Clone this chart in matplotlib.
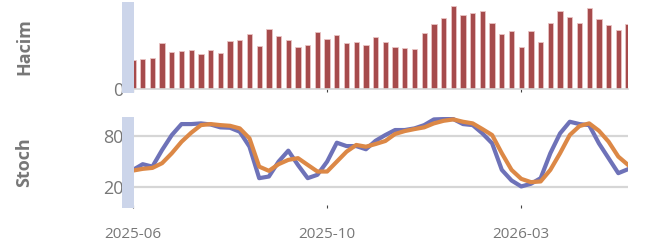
import numpy as np
import pandas as pd
import matplotlib
matplotlib.use('Agg')
import matplotlib.pyplot as plt
from matplotlib.patches import Rectangle

plt.rcParams['font.family'] = ['Open Sans', 'DejaVu Sans']

# weekly candles, june 2025 -> may 2026
dates = pd.date_range('2025-06-02', periods=52, freq='W-MON')

# volume (millions)
volume = [2.85, 2.95, 3.02, 4.55, 3.65, 3.75, 3.88, 3.48, 3.88, 3.58,
          4.75, 4.85, 5.42, 4.28, 5.92, 5.28, 4.88, 4.18, 4.32, 5.65,
          4.92, 5.35, 4.58, 4.62, 4.35, 5.18, 4.62, 4.15, 4.02, 3.92,
          5.55, 6.45, 7.02, 8.28, 7.35, 7.55, 7.75, 6.55, 5.48, 5.72,
          4.12, 5.72, 4.65, 6.52, 7.72, 7.12, 6.52, 8.02, 6.95, 6.38,
          5.85, 6.42]

# stochastic %K / %D
stoch_k = [40.4, 47.0, 44.2, 63.5, 80.8, 93.5, 93.5, 94.3, 93.0, 89.7,
           89.2, 84.6, 67.3, 30.8, 32.7, 50.0, 62.7, 46.0, 30.8, 34.7,
           50.0, 71.9, 68.0, 68.0, 64.3, 74.2, 80.8, 86.6, 86.6, 88.5,
           92.3, 98.9, 99.3, 99.3, 93.5, 92.3, 82.7, 71.2, 40.4, 28.1,
           21.2, 24.3, 30.8, 59.7, 82.7, 96.2, 93.5, 92.3, 71.2, 53.9,
           36.6, 41.2]
stoch_d = [39.6, 41.6, 42.7, 48.2, 59.7, 73.0, 83.5, 92.3, 93.5, 92.3,
           91.5, 88.5, 77.0, 44.2, 39.3, 47.0, 52.0, 54.0, 46.2, 38.5,
           38.5, 50.0, 61.5, 69.3, 67.3, 70.4, 73.9, 82.0, 85.4, 87.7,
           89.7, 94.3, 97.3, 98.9, 96.2, 94.3, 87.7, 80.8, 59.7, 40.4,
           30.0, 26.2, 27.0, 40.4, 59.7, 80.8, 91.2, 94.3, 85.8, 73.1,
           55.8, 46.2]

stoch_levels = [20, 80]

W, H = 649, 248
fig = plt.figure(figsize=(W / 100, H / 100), dpi=100)


def px_axes(x0, y0, x1, y1):
    return fig.add_axes([x0 / W, 1 - y1 / H, (x1 - x0) / W, (y1 - y0) / H])


x = np.arange(len(dates))
tick_idx = list(range(0, len(dates), 20))
tick_labels = [dates[i].strftime('%Y-%m') for i in tick_idx]
grey = '#777777'

ax1 = px_axes(133, 2, 628, 88.5)
ax2 = px_axes(133, 117, 628, 205)

ax1.bar(x, volume, width=0.55, color='#a64b4c', edgecolor='#e9c4c4',
        linewidth=0.6, zorder=2)
ax1.set_ylim(0, 8.65)
ax1.set_yticks([0])
ax1.set_yticklabels(['0'])

ax2.plot(x, stoch_k, color='#6e72b8', lw=3.0, zorder=3)
ax2.plot(x, stoch_d, color='#dc8846', lw=3.0, zorder=4)
for lvl in stoch_levels:
    ax2.axhline(lvl, color='#d6d6d6', lw=1.6, zorder=1)
ax2.set_ylim(-0.3, 101.7)
ax2.set_yticks([20, 80])
ax2.set_yticklabels(['20', '80'])

for ax in (ax1, ax2):
    ax.set_xlim(0, len(dates) - 1)
    for s in ax.spines.values():
        s.set_visible(False)
    ax.set_xticks(tick_idx)
    ax.tick_params(axis='x', length=2.2, width=0.8, color='#444444',
                   labelbottom=False)
    ax.tick_params(axis='y', length=0, pad=7, labelsize=13, labelcolor=grey)

ax1.spines['bottom'].set_visible(True)
ax1.spines['bottom'].set_color('#d6d6d6')
ax1.spines['bottom'].set_linewidth(1.2)

ax2.tick_params(axis='x', labelbottom=True, pad=14, labelsize=11,
                labelcolor=grey)
ax2.set_xticklabels(tick_labels)

fig.text(24.5 / W, 1 - 46.5 / H, 'Hacim', rotation=90, ha='center',
         va='center', fontsize=13, fontweight='bold', color=grey)
fig.text(24.5 / W, 1 - 162 / H, 'Stoch', rotation=90, ha='center',
         va='center', fontsize=13, fontweight='bold', color=grey)

# shaded strip on the left edge of both panels
for y0, y1 in [(2, 92.7), (117, 208)]:
    fig.patches.append(Rectangle((122.3 / W, 1 - y1 / H), 11.7 / W,
                                 (y1 - y0) / H, transform=fig.transFigure,
                                 facecolor='#ccd5ea', edgecolor='none',
                                 zorder=10))

fig.savefig('out.png', dpi=100)
